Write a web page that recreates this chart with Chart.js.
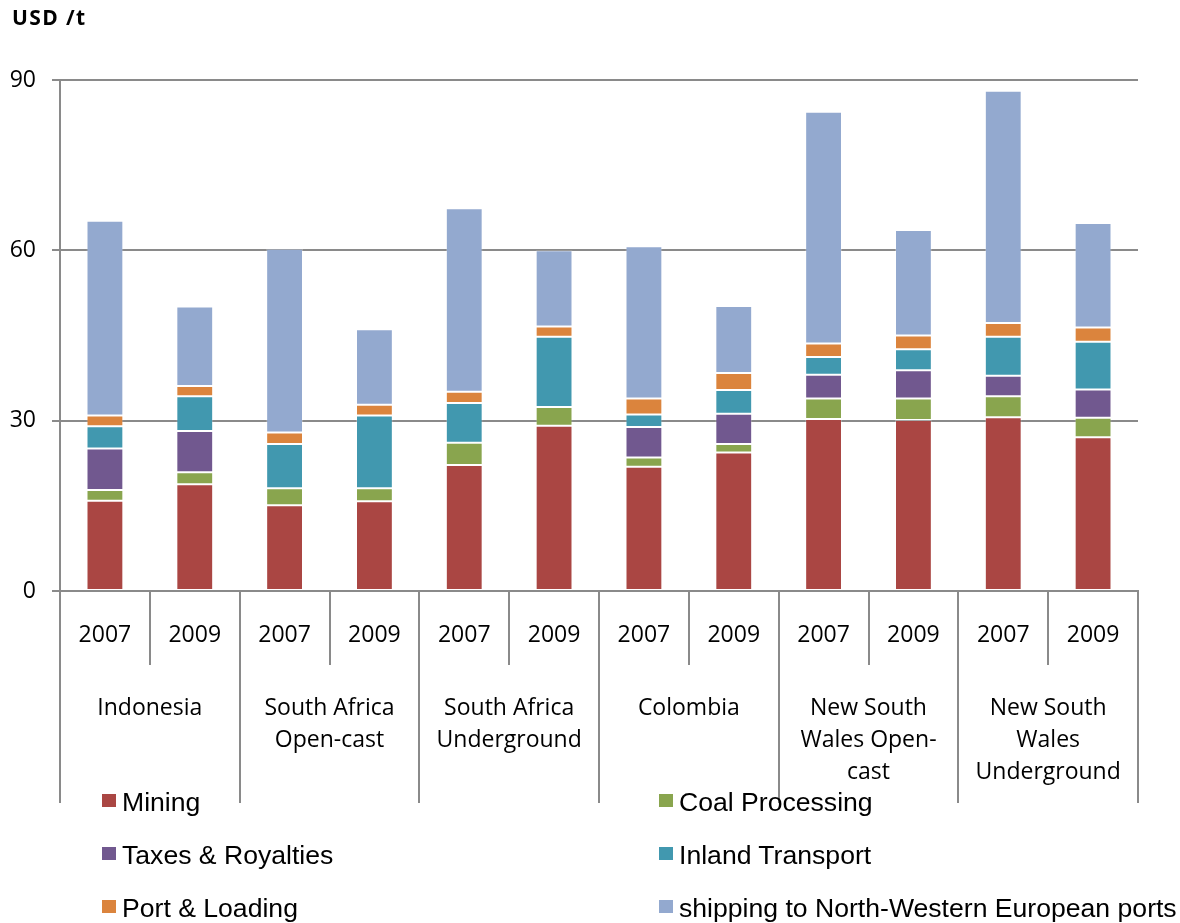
<!DOCTYPE html>
<html>
<head>
<meta charset="utf-8">
<script src="https://cdn.jsdelivr.net/npm/chart.js@4/dist/chart.umd.min.js"></script>
<style>
  html, body { margin: 0; padding: 0; background: #fff; }
  #wrap { position: relative; width: 1180px; height: 923px; }
  #unit { position: absolute; left: 12px; top: 7px; font: bold 21px "Open Sans", sans-serif; line-height: 21px; letter-spacing: 1.4px; color: #000; }
  .leg { position: absolute; font: 26.6px "Liberation Sans", Arial, sans-serif; line-height: 26px; color: #000; white-space: nowrap; }
  .leg i { position: absolute; left: -20px; top: 5px; width: 14px; height: 13px; }
</style>
</head>
<body>
<div id="wrap">
  <canvas id="myChart" width="1180" height="923"></canvas>
  <div id="unit">USD /t</div>
  <div id="legend"></div>
</div>
<script>
// categories
const years = ['2007', '2009', '2007', '2009', '2007', '2009', '2007', '2009', '2007', '2009', '2007', '2009'];
const groups = [
  ['Indonesia'],
  ['South Africa', 'Open-cast'],
  ['South Africa', 'Underground'],
  ['Colombia'],
  ['New South', 'Wales Open-', 'cast'],
  ['New South', 'Wales', 'Underground'],
];

// series values, USD/t
const mining   = [15.9, 18.8, 15.1, 15.8, 22.2, 29.1, 21.9, 24.4, 30.3, 30.1, 30.6, 27.1];
const coalProc = [1.9, 2.1, 3.0, 2.3, 3.9, 3.3, 1.6, 1.5, 3.6, 3.8, 3.7, 3.4];
const taxes    = [7.3, 7.3, null, null, null, null, 5.4, 5.3, 4.2, 5.0, 3.6, 5.0];
const inland   = [3.9, 6.1, 7.8, 12.8, 7.0, 12.4, 2.2, 4.2, 3.1, 3.7, 6.9, 8.4];
const port     = [1.9, 1.8, 2.0, 1.9, 2.0, 1.8, 2.8, 3.0, 2.4, 2.4, 2.4, 2.5];
const shipping = [34.3, 14.0, 32.4, 13.3, 32.3, 13.4, 26.8, 11.8, 40.8, 18.6, 40.9, 18.4];

// y ticks
const yTicks = [0, 30, 60, 90];

const seriesNames = ['Mining', 'Coal Processing', 'Taxes & Royalties', 'Inland Transport', 'Port & Loading', 'shipping to North-Western European ports'];
const seriesColors = ['#AA4643', '#89A54E', '#71588F', '#4198AF', '#DB843D', '#93A9CF'];
const seriesData = [mining, coalProc, taxes, inland, port, shipping];

const lineColor = '#8a8a8a';
const axisFont = '23px "Open Sans", sans-serif';

// multi-level category axis drawn under the bars
const categoryAxis = {
  id: 'categoryAxis',
  afterDraw(chart) {
    const ctx = chart.ctx;
    const x = chart.scales.x;
    const top = chart.chartArea.bottom;
    const px = (i) => x.getPixelForValue(i);
    ctx.save();
    ctx.strokeStyle = lineColor;
    ctx.lineWidth = 2;
    const seps = [x.left];
    for (let i = 1; i < years.length; i++) seps.push((px(i - 1) + px(i)) / 2);
    seps.push(x.right);
    seps.forEach((sx, i) => {
      const len = i % 2 === 0 ? 212 : 74;
      ctx.beginPath();
      ctx.moveTo(Math.round(sx), top);
      ctx.lineTo(Math.round(sx), top + len);
      ctx.stroke();
    });
    ctx.fillStyle = '#000';
    ctx.font = axisFont;
    ctx.textAlign = 'center';
    ctx.textBaseline = 'middle';
    years.forEach((y, i) => ctx.fillText(y, px(i), top + 44));
    groups.forEach((lines, g) => {
      const cx = (px(g * 2) + px(g * 2 + 1)) / 2;
      lines.forEach((t, k) => ctx.fillText(t, cx, top + 117 + k * 32));
    });
    ctx.restore();
  },
};

const ctx = document.getElementById('myChart');
const chart = new Chart(ctx, {
  type: 'bar',
  data: {
    labels: years,
    datasets: seriesData.map((d, i) => ({
      label: seriesNames[i],
      data: d,
      backgroundColor: seriesColors[i],
      borderColor: 'rgba(255,255,255,0.25)',
      borderWidth: 1,
      borderSkipped: false,
      barPercentage: 0.41,
      categoryPercentage: 1,
    })),
  },
  options: {
    responsive: false,
    animation: false,
    layout: { padding: { top: 80, right: 42, left: 0, bottom: 0 } },
    plugins: { legend: { display: false }, tooltip: { enabled: false }, title: { display: false } },
    scales: {
      x: {
        stacked: true,
        ticks: { display: false },
        grid: { display: false },
        border: { display: true, color: lineColor, width: 2 },
        afterFit: (s) => { s.height = 332; },
      },
      y: {
        stacked: true,
        min: 0,
        max: 90,
        afterBuildTicks: (s) => { s.ticks = yTicks.map((v) => ({ value: v })); },
        ticks: { color: '#000', font: { family: '"Open Sans", sans-serif', size: 23 }, padding: 16 },
        grid: { color: lineColor, lineWidth: 2, tickLength: 8 },
        border: { display: true, color: lineColor, width: 2 },
        afterFit: (s) => { s.width = 60; },
      },
    },
  },
  plugins: [categoryAxis],
});

// legend in two columns below the axis
const legendDiv = document.getElementById('legend');
chart.data.datasets.forEach((ds, i) => {
  const item = document.createElement('div');
  item.className = 'leg';
  item.style.left = (i % 2 === 0 ? 122 : 679) + 'px';
  item.style.top = (789 + Math.floor(i / 2) * 53) + 'px';
  item.innerHTML = '<i style="background:' + ds.backgroundColor + '"></i>' + ds.label;
  legendDiv.appendChild(item);
});
</script>
</body>
</html>
